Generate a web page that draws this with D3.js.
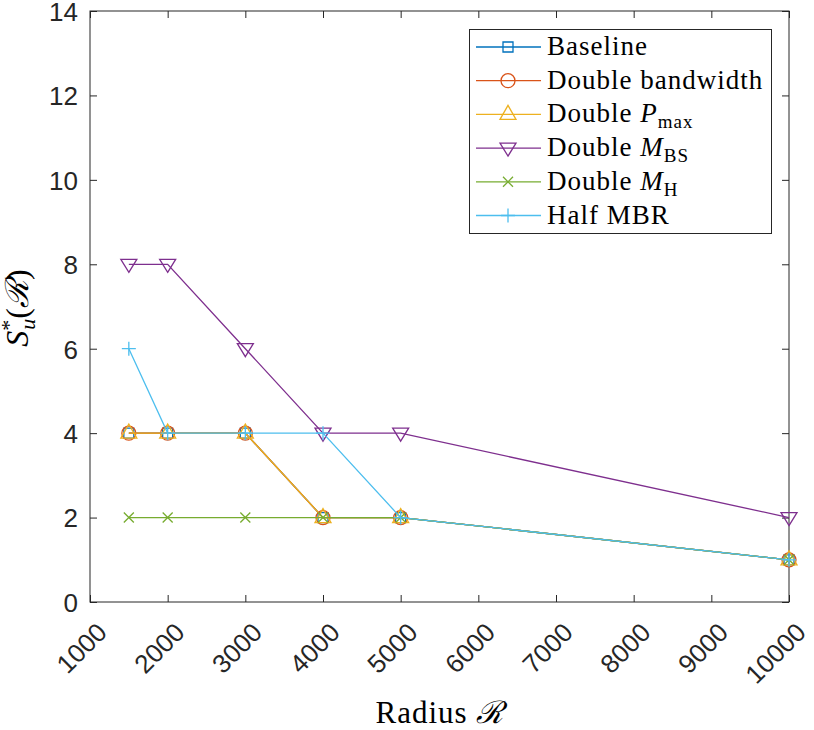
<!DOCTYPE html>
<html>
<head>
<meta charset="utf-8">
<script src="https://cdn.jsdelivr.net/npm/d3@7"></script>
<style>
    body { margin: 0; background: #fff; }
    svg { display: block; }
    .tick text { font-family: "Liberation Sans", Arial, sans-serif; font-size: 26px; fill: #262626; }
    .serif { font-family: "Liberation Serif", "DejaVu Serif", serif; fill: #000; }
</style>
</head>
<body>
<div id="chart"></div>
<script>
// radius values on the x axis
var radius = [1500, 2000, 3000, 4000, 5000, 10000];

// S*_u(R) for every configuration
var baseline = [4, 4, 4, 2, 2, 1];
var doubleBandwidth = [4, 4, 4, 2, 2, 1];
var doublePmax = [4, 4, 4, 2, 2, 1];
var doubleMbs = [8, 8, 6, 4, 4, 2];
var doubleMh = [2, 2, 2, 2, 2, 1];
var halfMbr = [6, 4, 4, 4, 2, 1];

var xTicks = [1000, 2000, 3000, 4000, 5000, 6000, 7000, 8000, 9000, 10000];
var yTicks = [0, 2, 4, 6, 8, 10, 12, 14];

var series = [
    { name: "Baseline", values: baseline, color: "#0072BD", marker: "square" },
    { name: "Double bandwidth", values: doubleBandwidth, color: "#D95319", marker: "circle" },
    { name: "Double Pmax", values: doublePmax, color: "#EDB120", marker: "up" },
    { name: "Double MBS", values: doubleMbs, color: "#7E2F8E", marker: "down" },
    { name: "Double MH", values: doubleMh, color: "#77AC30", marker: "x" },
    { name: "Half MBR", values: halfMbr, color: "#4DBEEE", marker: "plus" }
];

var width = 814, height = 730;
// note: "top" is a read-only window property, so use plot_* names
var plot_left = 90, plot_right = 789, plot_top = 11, plot_bottom = 602;
var axisColor = "#262626";

var svg = d3.select("#chart").append("svg")
    .attr("width", width)
    .attr("height", height);

var x = d3.scaleLinear().domain([1000, 10000]).range([plot_left, plot_right]);
var y = d3.scaleLinear().domain([0, 14]).range([plot_bottom, plot_top]);

// marker path in local coordinates
var markerPath = function (type) {
    switch (type) {
        case "square": return "M-5,-5H5V5H-5Z";
        case "circle": return "M-7,0A7,7 0 1,0 7,0A7,7 0 1,0 -7,0Z";
        case "up": return "M0,-9L8,5H-8Z";
        case "down": return "M0,8L8,-5H-8Z";
        case "x": return "M-5,-5L5,5M-5,5L5,-5";
        case "plus": return "M-7,0H7M0,-7V7";
    }
}

// axes
var styleAxis = function (g) {
    g.select(".domain").remove();
    g.selectAll(".tick line").attr("stroke", axisColor).attr("stroke-width", 1);
}

svg.append("g")
    .attr("transform", "translate(" + plot_left + ",0)")
    .call(d3.axisLeft(y).tickValues(yTicks).tickSize(-7).tickPadding(12))
    .call(styleAxis)
    .selectAll("text").attr("dy", "0.36em");

svg.append("g")
    .attr("transform", "translate(" + plot_right + ",0)")
    .call(d3.axisRight(y).tickValues(yTicks).tickSize(-7).tickFormat(""))
    .call(styleAxis);

svg.append("g")
    .attr("transform", "translate(0," + plot_top + ")")
    .call(d3.axisTop(x).tickValues(xTicks).tickSize(-7).tickFormat(""))
    .call(styleAxis);

var xAxis = svg.append("g")
    .attr("transform", "translate(0," + plot_bottom + ")")
    .call(d3.axisBottom(x).tickValues(xTicks).tickSize(-7).tickFormat(d3.format("d")))
    .call(styleAxis);

xAxis.selectAll("text")
    .attr("y", 0)
    .attr("dy", 0)
    .attr("text-anchor", "end")
    .attr("transform", "translate(18,32) rotate(-45)");

svg.append("rect")
    .attr("x", plot_left)
    .attr("y", plot_top)
    .attr("width", plot_right - plot_left)
    .attr("height", plot_bottom - plot_top)
    .attr("fill", "none")
    .attr("stroke", axisColor)
    .attr("stroke-width", 1);

// lines and markers
var line = d3.line()
    .x(function (d, i) { return x(radius[i]); })
    .y(function (d) { return y(d); });

series.forEach(function (s) {
    var g = svg.append("g");
    g.append("path")
        .attr("d", line(s.values))
        .attr("fill", "none")
        .attr("stroke", s.color)
        .attr("stroke-width", 1.3);
    g.selectAll(".m")
        .data(s.values)
        .enter().append("path")
        .attr("class", "m")
        .attr("transform", function (d, i) { return "translate(" + x(radius[i]) + "," + y(d) + ")"; })
        .attr("d", markerPath(s.marker))
        .attr("fill", "none")
        .attr("stroke", s.color)
        .attr("stroke-width", 1.3);
});

// legend
var legend = svg.append("g");
legend.append("rect")
    .attr("x", 469.5)
    .attr("y", 29.5)
    .attr("width", 302)
    .attr("height", 204)
    .attr("fill", "#fff")
    .attr("stroke", axisColor)
    .attr("stroke-width", 1);

var legendLabel = function (text, s) {
    // plain text, or italic letter with roman subscript
    var sub = { "Double Pmax": ["P", "max"], "Double MBS": ["M", "BS"], "Double MH": ["M", "H"] }[s.name];
    if (sub) {
        text.append("tspan").text("Double ");
        text.append("tspan").attr("font-style", "italic").text(sub[0]);
        text.append("tspan").attr("font-size", "19px").attr("dy", 6).text(sub[1]);
    } else {
        text.text(s.name);
    }
}

series.forEach(function (s, i) {
    var cy = 47 + i * 33.7;
    var item = legend.append("g");
    item.append("line")
        .attr("x1", 476).attr("x2", 541)
        .attr("y1", cy).attr("y2", cy)
        .attr("stroke", s.color)
        .attr("stroke-width", 1.3);
    item.append("path")
        .attr("transform", "translate(508," + cy + ")")
        .attr("d", markerPath(s.marker))
        .attr("fill", "none")
        .attr("stroke", s.color)
        .attr("stroke-width", 1.3);
    var text = item.append("text")
        .attr("class", "serif")
        .attr("x", 547)
        .attr("y", cy + 8)
        .attr("font-size", "27px")
        .attr("letter-spacing", "1px");
    legendLabel(text, s);
});

// axis titles
var xTitle = svg.append("text")
    .attr("class", "serif")
    .attr("x", 440)
    .attr("y", 723)
    .attr("text-anchor", "middle")
    .attr("font-size", "31px")
    .attr("letter-spacing", "1px");
xTitle.append("tspan").text("Radius ");
xTitle.append("tspan").attr("font-style", "italic").text("\u211B");

var yTitle = svg.append("text")
    .attr("class", "serif")
    .attr("transform", "translate(28,308) rotate(-90)")
    .attr("text-anchor", "middle")
    .attr("font-size", "32px");
yTitle.append("tspan").attr("font-style", "italic").text("S");
yTitle.append("tspan").attr("font-size", "22px").attr("dy", -12).text("*");
yTitle.append("tspan").attr("font-size", "22px").attr("font-style", "italic").attr("dx", -10).attr("dy", 19).text("u");
yTitle.append("tspan").attr("dy", -7).text("(");
yTitle.append("tspan").attr("font-style", "italic").text("\u211B");
yTitle.append("tspan").text(")");
</script>
</body>
</html>
